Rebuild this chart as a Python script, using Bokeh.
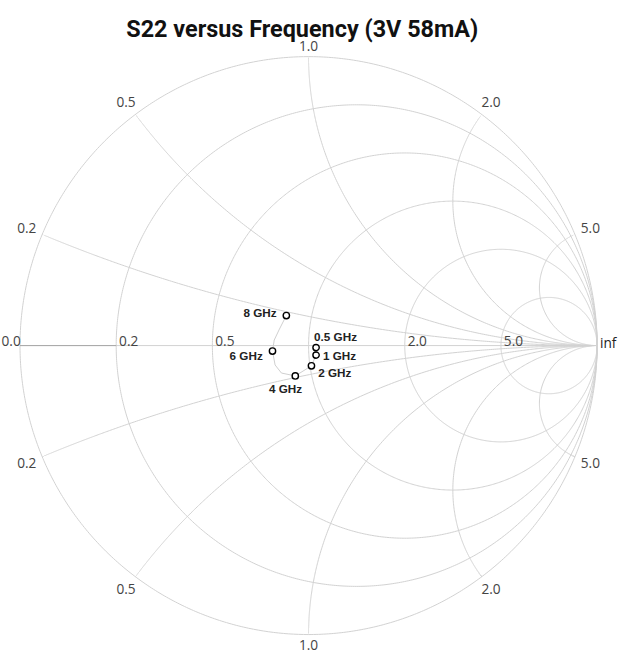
import numpy as np
from bokeh.plotting import figure
from bokeh.models import Range1d, ColumnDataSource
from bokeh.core.properties import value
from bokeh.embed import file_html
from bokeh.resources import INLINE

# ---------------- data ----------------
title_text = "S22 versus Frequency (3V 58mA)"
marker_labels = ["0.5 GHz", "1 GHz", "2 GHz", "4 GHz", "6 GHz", "8 GHz"]
marker_real = [0.026, 0.026, 0.010, -0.046, -0.125, -0.077]
marker_imag = [-0.007, -0.033, -0.070, -0.105, -0.019, 0.104]
# whole measured trace, 0.5 GHz -> 8 GHz
trace_real = [0.026, 0.026, 0.010, -0.046, -0.094, -0.116, -0.125, -0.119, -0.101, -0.077]
trace_imag = [-0.007, -0.033, -0.070, -0.105, -0.095, -0.067, -0.019, 0.019, 0.057, 0.104]
resistance_grid = [0.0, 0.2, 0.5, 1.0, 2.0, 5.0]
resistance_ticks = [0.2, 0.5, 2.0, 5.0]
reactance_ticks = [0.2, 0.5, 1.0, 2.0, 5.0]

# ---------------- layout ----------------
W, H = 621, 656
REF_W, REF_H = 637, 672
S = W / REF_W            # page scale
R = 296.0                # reference pixels per unit of reflection coefficient
CX, CY = 316.0, 353.5    # chart centre in reference pixels
GRID = "#d2d2d2"
TICK_FONT = value("Open Sans")
TICK_COLOR = "#444444"
TICK_SIZE = f"{14 * S:.2f}px"

def px(v):
    return v * S

p = figure(width=W, height=H, output_backend="svg", toolbar_location=None,
           x_range=Range1d(-CX / R, (REF_W - CX) / R),
           y_range=Range1d(-(REF_H - CY) / R, CY / R),
           x_axis_location=None, y_axis_location=None, min_border=0)
p.grid.visible = False
p.outline_line_color = None
p.background_fill_color = "white"
p.border_fill_color = "white"

# constant resistance circles
t = np.linspace(0, 2 * np.pi, 721)
for r in resistance_grid:
    c = r / (1 + r)
    rad = 1 / (1 + r)
    p.line(c + rad * np.cos(t), rad * np.sin(t), line_color=GRID, line_width=1)

# real axis
p.line([-1, 1], [0, 0], line_color=GRID, line_width=1)
p.line([-1, (resistance_ticks[0] - 1) / (resistance_ticks[0] + 1)], [0, 0],
       line_color="#a8a8a8", line_width=1)

# constant reactance arcs
rr = np.concatenate([[0.0], np.logspace(-3, 5, 800)])
for x in reactance_ticks:
    for s in (1, -1):
        z = rr + 1j * s * x
        g = (z - 1) / (z + 1)
        gx = np.append(g.real, 1.0)
        gy = np.append(g.imag, 0.0)
        p.line(gx, gy, line_color=GRID, line_width=1)

# reactance labels around the rim
lx, ly, lt = [], [], []
for x in reactance_ticks:
    for s in (1, -1):
        gr = (x * x - 1) / (x * x + 1)
        gi = s * 2 * x / (x * x + 1)
        th = np.arctan2(gi, gr)
        rad = 1 + (6 + 10 * abs(np.cos(th)) + 5 * abs(np.sin(th))) / R
        lx.append(rad * np.cos(th)); ly.append(rad * np.sin(th)); lt.append(f"{x:.1f}")
p.text(x=lx, y=ly, text=lt, text_font=TICK_FONT, text_font_size=TICK_SIZE,
       text_color=TICK_COLOR, text_align="center", text_baseline="middle")

# resistance labels on the real axis
rx = [(r - 1) / (r + 1) for r in resistance_ticks]
p.text(x=rx, y=[0] * len(rx), text=[f"{r:.1f}" for r in resistance_ticks],
       text_font=TICK_FONT, text_font_size=TICK_SIZE, text_color=TICK_COLOR,
       text_align="left", text_baseline="alphabetic", x_offset=px(3), y_offset=px(-5))
# "0.0" just inside the left page edge
p.text(x=[-CX / R], y=[0], text=["0.0"], text_font=TICK_FONT, text_font_size=TICK_SIZE,
       text_color=TICK_COLOR, text_align="left", text_baseline="alphabetic",
       x_offset=1, y_offset=px(-5))
p.text(x=[1], y=[0], text=["inf"], text_font=TICK_FONT, text_font_size=TICK_SIZE,
       text_color="#222222", text_align="left", text_baseline="alphabetic",
       x_offset=px(3), y_offset=px(-3))

# trace
p.line(trace_real, trace_imag, line_color="#d0d0d0", line_width=1)
src = ColumnDataSource(dict(x=marker_real, y=marker_imag, label=marker_labels))
p.scatter("x", "y", source=src, size=px(6.5), marker="circle", fill_color="white",
          line_color="black", line_width=1.4)

# per-label placement (px offsets in reference pixels, align)
label_style = [
    (-2, -11, "left"),     # 0.5 GHz
    (7, 0, "left"),        # 1 GHz
    (7, 7, "left"),        # 2 GHz
    (-10, 13, "center"),   # 4 GHz
    (-10, 5, "right"),     # 6 GHz
    (-10, -3, "right"),    # 8 GHz
]
for (xx, yy, lab), (dx, dy, al) in zip(zip(marker_real, marker_imag, marker_labels), label_style):
    p.text(x=[xx], y=[yy], text=[lab], text_font=value("Liberation Sans"),
           text_font_style="bold", text_font_size=f"{12 * S:.2f}px", text_color="#222222",
           text_align=al, text_baseline="middle", x_offset=px(dx), y_offset=px(dy))

# title
p.text(x=[(309.5 - CX) / R], y=[(CY - 29.5) / R], text=[title_text],
       text_font=value("Roboto"), text_font_style="bold", text_font_size=f"{24 * S:.2f}px",
       text_color="#111111", text_align="center", text_baseline="alphabetic")

open("out.html", "w").write(file_html(p, INLINE))
